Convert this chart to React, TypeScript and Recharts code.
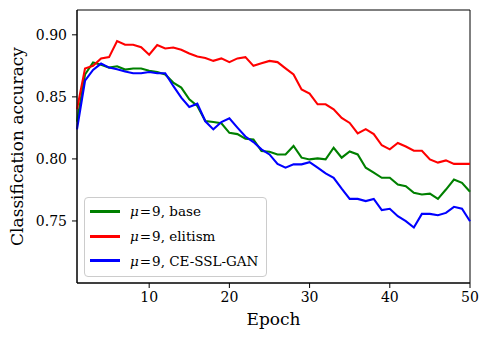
import React from "react";
import {
  LineChart,
  Line,
  XAxis,
  YAxis,
  Legend,
  ReferenceArea,
} from "recharts";

// Training epochs
const epochs = [
  1, 2, 3, 4, 5, 6, 7, 8, 9, 10,
  11, 12, 13, 14, 15, 16, 17, 18, 19, 20,
  21, 22, 23, 24, 25, 26, 27, 28, 29, 30,
  31, 32, 33, 34, 35, 36, 37, 38, 39, 40,
  41, 42, 43, 44, 45, 46, 47, 48, 49, 50,
];

// Classification accuracy per epoch, mu = 9
const baseAcc = [
  0.830, 0.868, 0.8777, 0.8758, 0.8736, 0.8747, 0.872, 0.8728, 0.8728, 0.871,
  0.870, 0.868, 0.8615, 0.8575, 0.848, 0.8427, 0.8306, 0.8297, 0.8287, 0.821,
  0.820, 0.8163, 0.8157, 0.8063, 0.8058, 0.8036, 0.8036, 0.8104, 0.801, 0.7996,
  0.8004, 0.7996, 0.809, 0.801, 0.806, 0.8036, 0.7929, 0.789, 0.7848, 0.7848,
  0.7794, 0.778, 0.7727, 0.7713, 0.772, 0.7678, 0.7753, 0.7834, 0.7807, 0.7735,
];

const elitismAcc = [
  0.840, 0.8728, 0.875, 0.881, 0.882, 0.895, 0.892, 0.892, 0.890, 0.884,
  0.8917, 0.889, 0.8898, 0.888, 0.885, 0.8825, 0.8814, 0.879, 0.881, 0.878,
  0.881, 0.882, 0.875, 0.877, 0.879, 0.878, 0.873, 0.868, 0.856, 0.8526,
  0.844, 0.844, 0.840, 0.833, 0.829, 0.8206, 0.824, 0.820, 0.811, 0.8077,
  0.8128, 0.810, 0.8066, 0.8066, 0.7996, 0.797, 0.7988, 0.796, 0.796, 0.796,
];

const ceSslGanAcc = [
  0.8238, 0.863, 0.8717, 0.8768, 0.8736, 0.8723, 0.8704, 0.869, 0.869, 0.870,
  0.869, 0.869, 0.8588, 0.8494, 0.8419, 0.8445, 0.8303, 0.8238, 0.8297, 0.8327,
  0.8252, 0.818, 0.8136, 0.8077, 0.8036, 0.796, 0.7929, 0.7956, 0.7956, 0.7974,
  0.7929, 0.7883, 0.7848, 0.776, 0.7678, 0.7678, 0.766, 0.7678, 0.7587, 0.7598,
  0.7538, 0.7498, 0.7447, 0.7557, 0.7557, 0.7546, 0.7565, 0.7614, 0.7598, 0.7498,
];

const xTicks = [10, 20, 30, 40, 50];
const yTicks = [0.75, 0.8, 0.85, 0.9];

const series = [
  { key: "base", name: "base", color: "#008000" },
  { key: "elitism", name: "elitism", color: "#ff0000" },
  { key: "cessl", name: "CE-SSL-GAN", color: "#0000ff" },
];

const data = epochs.map((e, i) => ({
  epoch: e,
  base: baseAcc[i],
  elitism: elitismAcc[i],
  cessl: ceSslGanAcc[i],
}));

const FONT = "DejaVu Serif";

const LegendBox = () => (
  <div
    style={{
      width: 181,
      height: 77,
      border: "1px solid #cccccc",
      borderRadius: 4,
      background: "rgba(255,255,255,0.8)",
      fontFamily: FONT,
      fontSize: 13.5,
      color: "#000",
      boxSizing: "content-box",
      paddingTop: 1,
    }}
  >
    {series.map((s) => (
      <div
        key={s.key}
        style={{
          display: "flex",
          alignItems: "center",
          height: 24.7,
        }}
      >
        <div
          style={{
            width: 30,
            height: 3,
            background: s.color,
            marginLeft: 5,
            marginRight: 10,
          }}
        />
        <span style={{ whiteSpace: "nowrap", lineHeight: "14px", fontFamily: FONT }}>
          <span style={{ fontStyle: "italic" }}>μ</span>
          <span style={{ margin: "0 1px" }}>=</span>9, {s.name}
        </span>
      </div>
    ))}
  </div>
);

export default function App() {
  return (
    <div style={{ position: "absolute", left: 0, top: 0, fontFamily: FONT }}>
      <LineChart
        width={490}
        height={340}
        data={data}
        margin={{ top: 10, right: 20, bottom: 0, left: 0 }}
        style={{ fontFamily: FONT }}
      >
        <XAxis
          dataKey="epoch"
          type="number"
          domain={[1, 50]}
          ticks={xTicks}
          allowDecimals={false}
          height={57}
          tickSize={5}
          tickMargin={4}
          axisLine={{ stroke: "#000", strokeWidth: 1 }}
          tickLine={{ stroke: "#000" }}
          tick={{ fill: "#000", fontSize: 14, fontFamily: FONT }}
          label={() => (
            <text
              x={273.5}
              y={325}
              textAnchor="middle"
              fontSize={17}
              fontFamily={FONT}
              fill="#000"
            >
              Epoch
            </text>
          )}
        />
        <YAxis
          type="number"
          domain={[0.7, 0.92]}
          ticks={yTicks}
          width={77}
          tickSize={5}
          tickMargin={5}
          tickFormatter={(v: number) => v.toFixed(2)}
          axisLine={{ stroke: "#000", strokeWidth: 1 }}
          tickLine={{ stroke: "#000" }}
          tick={{ fill: "#000", fontSize: 14, fontFamily: FONT }}
          label={() => (
            <text
              x={16.5}
              y={146.5}
              transform="rotate(-90 16.5 146.5)"
              textAnchor="middle"
              dominantBaseline="central"
              fontSize={17}
              fontFamily={FONT}
              fill="#000"
            >
              Classification accuracy
            </text>
          )}
        />
        {series.map((s) => (
          <Line
            key={s.key}
            dataKey={s.key}
            name={s.name}
            stroke={s.color}
            strokeWidth={2.1}
            dot={false}
            activeDot={false}
            type="linear"
            isAnimationActive={false}
          />
        ))}
        <ReferenceArea
          x1={1}
          x2={50}
          y1={0.7}
          y2={0.92}
          fill="none"
          stroke="#000"
          strokeWidth={1}
          ifOverflow="visible"
        />
        <Legend
          layout="vertical"
          align="center"
          verticalAlign="middle"
          content={() => <LegendBox />}
          wrapperStyle={{ left: 84, top: 197, width: 183, height: 79 }}
        />
      </LineChart>
    </div>
  );
}
